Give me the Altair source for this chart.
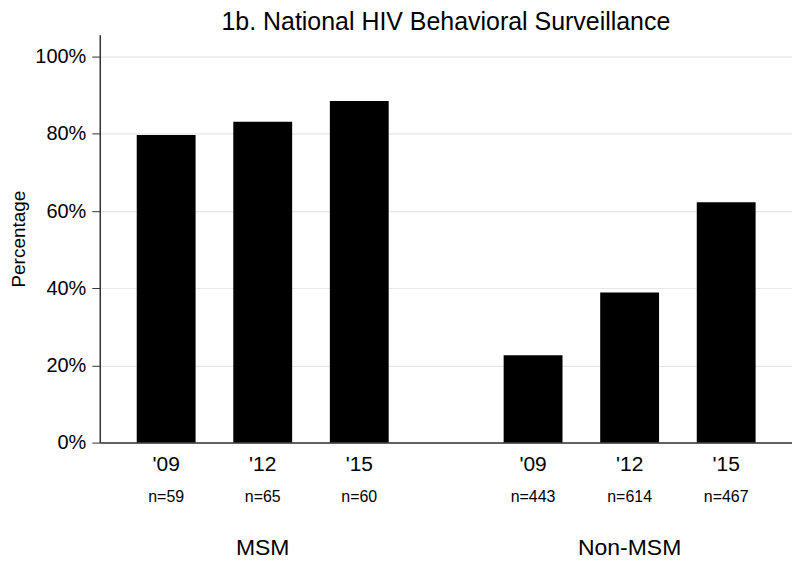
import altair as alt
import pandas as pd

groups = ["MSM", "MSM", "MSM", "Non-MSM", "Non-MSM", "Non-MSM"]
years = ["'09", "'12", "'15", "'09", "'12", "'15"]
n_labels = ["n=59", "n=65", "n=60", "n=443", "n=614", "n=467"]
values = [0.797, 0.831, 0.885, 0.226, 0.389, 0.623]
group_names = ["MSM", "Non-MSM"]

df = pd.DataFrame({"group": groups, "year": years, "n": n_labels, "value": values})
df["gi"] = [group_names.index(g) for g in groups]
df["yi"] = df.groupby("group").cumcount()

FONT = "Liberation Sans"
GAP = 3.8

xscale = alt.Scale(domain=[-0.636, 6.43], nice=False, zero=False)

base = alt.Chart(df).transform_calculate(pos=f"datum.yi + datum.gi * {GAP}")

bars = base.mark_bar(color="black", size=59).encode(
    x=alt.X("pos:Q", scale=xscale,
            axis=alt.Axis(labels=False, ticks=False, grid=False, title=None,
                          domainColor="#333333", domainWidth=1.5)),
    y=alt.Y("value:Q", scale=alt.Scale(domain=[0, 1.057], nice=False),
            axis=alt.Axis(values=[0, 0.2, 0.4, 0.6, 0.8, 1.0], format="%",
                          title="Percentage", titleFont=FONT, titleFontSize=19,
                          titleFontWeight="normal", titleColor="black", titlePadding=6,
                          labelFont=FONT, labelFontSize=20, labelColor="black", labelPadding=6,
                          tickSize=8, tickColor="#333333", domainColor="#333333",
                          domainWidth=1.5, gridColor="#e6e6e6", gridWidth=1.2)),
)

year_text = base.mark_text(font=FONT, fontSize=21, color="black", baseline="middle").encode(
    x=alt.X("pos:Q", scale=xscale), y=alt.value(431), text="year:N")

n_text = base.mark_text(font=FONT, fontSize=16, color="black", baseline="middle").encode(
    x=alt.X("pos:Q", scale=xscale), y=alt.value(464), text="n:N")

group_text = base.transform_filter("datum.yi == 1").mark_text(
    font=FONT, fontSize=23, color="black", baseline="middle").encode(
    x=alt.X("pos:Q", scale=xscale), y=alt.value(515), text="group:N")

chart = alt.layer(bars, year_text, n_text, group_text).properties(
    width=694, height=409,
    title=alt.TitleParams("1b. National HIV Behavioral Surveillance", font=FONT,
                          fontSize=25, fontWeight="normal", color="black",
                          anchor="middle", offset=0),
    autosize=alt.AutoSizeParams(type="none"),
    padding={"left": 92, "top": 26, "right": 0, "bottom": 120},
).configure_view(stroke=None)

chart.save("out.html", embed_options={"renderer": "svg", "actions": False})
